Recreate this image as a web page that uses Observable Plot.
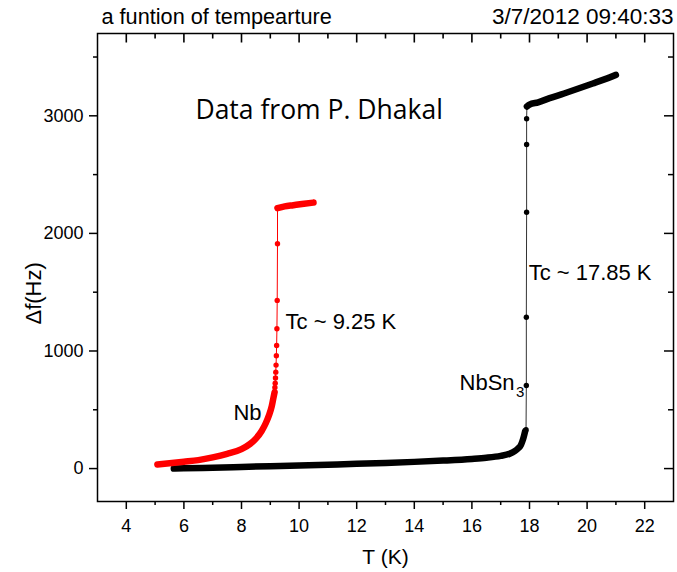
<!DOCTYPE html>
<html>
<head>
<meta charset="utf-8">
<script src="https://cdn.jsdelivr.net/npm/d3@7"></script>
<script src="https://cdn.jsdelivr.net/npm/@observablehq/plot@0.6"></script>
<style>
  html, body { margin: 0; padding: 0; background: #fff; }
</style>
</head>
<body>
<div id="chart"></div>
<script>
// ---- Data ----
// Nb (red): dense low-temperature branch
const nbT   = [5.08, 5.5, 6.0, 6.5, 7.0, 7.5, 8.0, 8.3, 8.5, 8.7, 8.85, 8.95, 9.05, 9.1, 9.15];
const nbDf  = [35, 45, 58, 72, 95, 125, 165, 210, 255, 320, 390, 450, 530, 590, 650];
// Nb: sparse transition points
const nbTrT  = [9.16, 9.17, 9.18, 9.19, 9.2, 9.21, 9.22, 9.23, 9.24, 9.25, 9.25];
const nbTrDf = [690, 725, 770, 820, 880, 960, 1047, 1189, 1430, 1912, 2215];
// Nb: normal-state branch
const nbTopT  = [9.25, 9.5, 9.8, 10.1, 10.5];
const nbTopDf = [2215, 2230, 2240, 2250, 2262];

// NbSn3 (black): dense low-temperature branch
const snT  = [5.65, 6, 7, 8, 9, 10, 11, 12, 13, 14, 15, 16, 16.5, 17, 17.3, 17.5, 17.6, 17.7, 17.75, 17.8, 17.85];
const snDf = [0, 2, 8, 14, 20, 26, 33, 40, 48, 57, 68, 82, 92, 108, 125, 150, 170, 200, 230, 270, 320];
// NbSn3: sparse transition points
const snTrT  = [17.88, 17.89, 17.89, 17.9, 17.9, 17.9, 17.91];
const snTrDf = [330, 707, 1287, 2180, 2756, 2975, 3079];
// NbSn3: normal-state branch
const snTopT  = [17.91, 18.0, 18.3, 18.7, 19.2, 19.7, 20.2, 20.6, 21.0];
const snTopDf = [3079, 3095, 3115, 3150, 3190, 3232, 3275, 3310, 3348];

// Axis ticks
const xMajor = [4, 6, 8, 10, 12, 14, 16, 18, 20, 22];
const xMinor = [5, 7, 9, 11, 13, 15, 17, 19, 21];
const yMajor = [0, 1000, 2000, 3000];
const yMinor = [500, 1500, 2500, 3500];

// Annotations
const annotations = [
  {t: 6.40, df: 2969, text: "Data from P. Dhakal", kind: "big"},
  {t: 9.53, df: 1191, text: "Tc ~ 9.25 K", kind: "ann"},
  {t: 17.97, df: 1600, text: "Tc ~ 17.85 K", kind: "ann"},
  {t: 7.72, df: 417, text: "Nb", kind: "ann"},
  {t: 15.57, df: 664, text: "NbSn", kind: "ann"},
  {t: 17.53, df: 605, text: "3", kind: "sub"}
];
const yTitle = [{t: 0.8, df: 1490, text: "\u0394f(Hz)"}];
const titleText = "a funtion of tempearture";
const dateText = "3/7/2012 09:40:33";

// ---- Tables ----
const zip = (ts, ds) => ts.map((t, i) => ({t, df: ds[i]}));
const nbLow = zip(nbT, nbDf), nbTr = zip(nbTrT, nbTrDf), nbTop = zip(nbTopT, nbTopDf);
const snLow = zip(snT, snDf), snTr = zip(snTrT, snTrDf), snTop = zip(snTopT, snTopDf);
const nbAll = [...nbLow, ...nbTr, ...nbTop];
const snAll = [...snLow, ...snTr, ...snTop];

const W = 677, H = 572;
const mT = 33, mB = 71, mL = 97, mR = 4;
const plotW = W - mL - mR, plotH = H - mT - mB;
const font = "Liberation Sans, Arial, sans-serif";
const yDom = [-280, 3700];
const perPx = (yDom[1] - yDom[0]) / plotH; // data units per pixel (inward tick length)

const chart = Plot.plot({
  width: W, height: H,
  marginTop: mT, marginBottom: mB, marginLeft: mL, marginRight: mR,
  style: {fontFamily: font, background: "#fff", color: "#000"},
  x: {domain: [3, 23]},
  y: {domain: yDom},
  marks: [
    // axes (outward ticks on bottom and left)
    Plot.axisX({ticks: xMajor, tickSize: 8, tickPadding: 10, fontSize: 18, label: null, strokeWidth: 1.5}),
    Plot.axisX({ticks: xMinor, tickSize: 4, tickFormat: () => "", label: null, strokeWidth: 1.5}),
    Plot.axisY({ticks: yMajor, tickSize: 8, tickPadding: 6, fontSize: 18, label: null, strokeWidth: 1.5, tickFormat: d => String(d)}),
    Plot.axisY({ticks: yMinor, tickSize: 4, tickFormat: () => "", label: null, strokeWidth: 1.5}),
    // inward ticks on top and right
    Plot.link(xMajor, {x1: d => d, x2: d => d, y1: () => yDom[1], y2: () => yDom[1] - 9 * perPx, strokeWidth: 1.6, stroke: "#000"}),
    Plot.link(xMinor, {x1: d => d, x2: d => d, y1: () => yDom[1], y2: () => yDom[1] - 5 * perPx, strokeWidth: 1.6, stroke: "#000"}),
    Plot.tickY(yMajor, {y: d => d, insetLeft: plotW - 9, strokeWidth: 1.5, stroke: "#000"}),
    Plot.tickY(yMinor, {y: d => d, insetLeft: plotW - 5, strokeWidth: 1.5, stroke: "#000"}),
    Plot.frame({stroke: "#000", strokeWidth: 1.5}),

    // NbSn3 (black)
    Plot.line(snAll, {x: "t", y: "df", stroke: "#333", strokeWidth: 1}),
    Plot.line(snLow, {x: "t", y: "df", stroke: "#000", strokeWidth: 6.5, curve: "monotone-x", strokeLinecap: "round"}),
    Plot.line(snTop, {x: "t", y: "df", stroke: "#000", strokeWidth: 6.5, curve: "monotone-x", strokeLinecap: "round"}),
    Plot.dot(snTr, {x: "t", y: "df", r: 2.7, fill: "#000"}),

    // Nb (red)
    Plot.line(nbAll, {x: "t", y: "df", stroke: "#ff0000", strokeWidth: 1}),
    Plot.line(nbLow, {x: "t", y: "df", stroke: "#ff0000", strokeWidth: 6.5, curve: "monotone-x", strokeLinecap: "round"}),
    Plot.line(nbTop, {x: "t", y: "df", stroke: "#ff0000", strokeWidth: 6.5, curve: "monotone-x", strokeLinecap: "round"}),
    Plot.dot(nbTr, {x: "t", y: "df", r: 2.7, fill: "#ff0000"}),

    // annotations
    Plot.text(annotations.filter(d => d.kind === "big"), {x: "t", y: "df", text: "text", textAnchor: "start", lineAnchor: "bottom", fontSize: 26.5, fontFamily: "Open Sans, sans-serif", fill: "#000"}),
    Plot.text(annotations.filter(d => d.kind === "ann"), {x: "t", y: "df", text: "text", textAnchor: "start", lineAnchor: "bottom", fontSize: 22, fill: "#000"}),
    Plot.text(annotations.filter(d => d.kind === "sub"), {x: "t", y: "df", text: "text", textAnchor: "start", lineAnchor: "bottom", fontSize: 15, fill: "#000"}),

    // axis titles
    Plot.text(["T (K)"], {frameAnchor: "bottom", dy: 62, lineAnchor: "bottom", fontSize: 21, fill: "#000"}),
    Plot.text(yTitle, {x: "t", y: "df", text: "text", rotate: -90, fontSize: 22, fill: "#000"}),

    // header texts
    Plot.text([titleText], {frameAnchor: "top-left", dx: 4, dy: -10, textAnchor: "start", lineAnchor: "bottom", fontSize: 21.7, fill: "#000"}),
    Plot.text([dateText], {frameAnchor: "top-right", dx: 0, dy: -10, textAnchor: "end", lineAnchor: "bottom", fontSize: 22.5, fill: "#000"})
  ]
});
document.getElementById("chart").appendChild(chart);
</script>
</body>
</html>
